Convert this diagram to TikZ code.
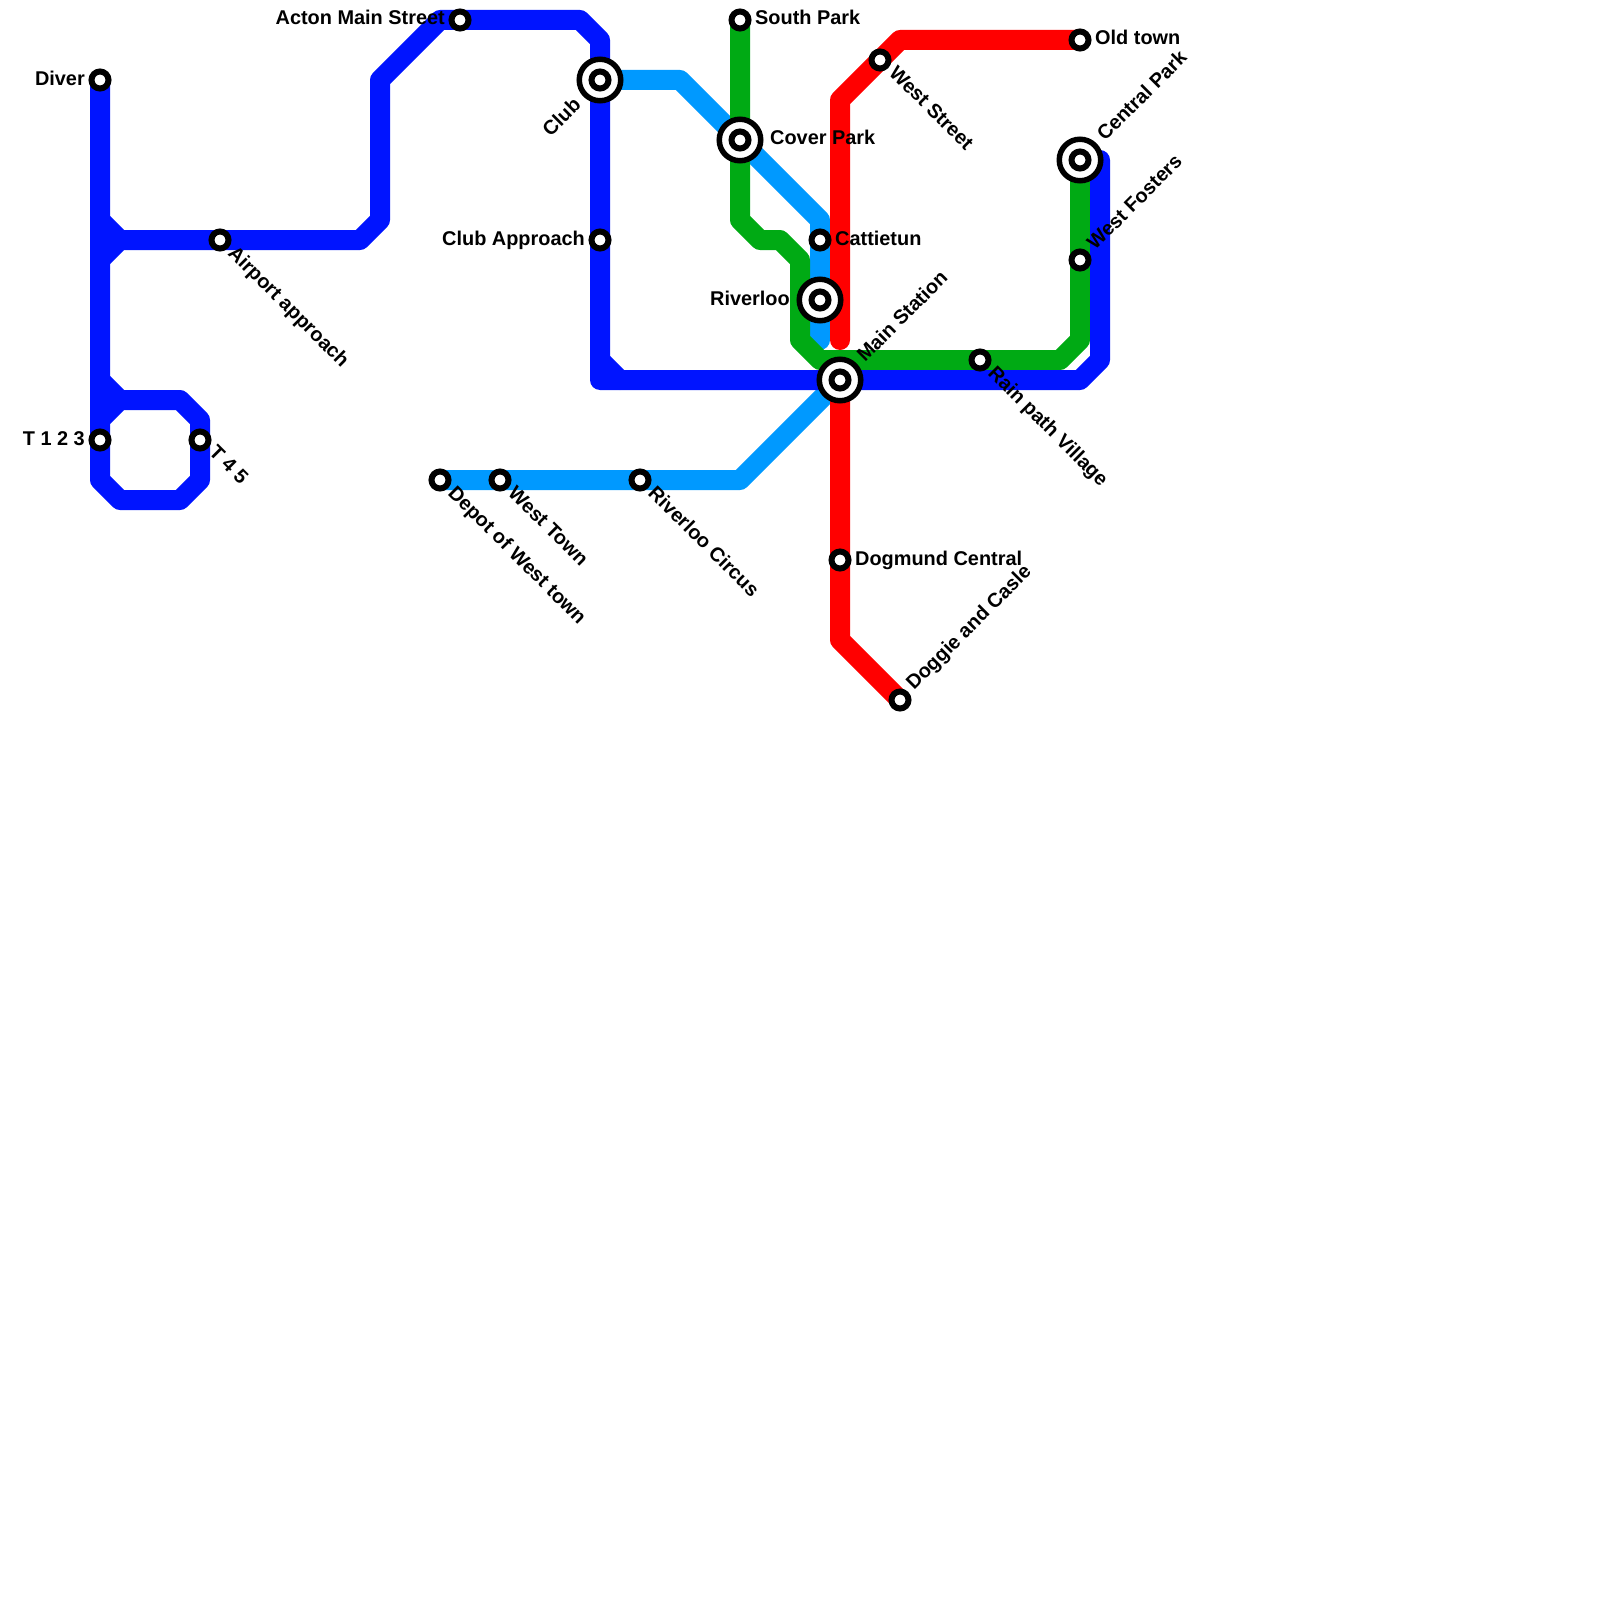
\documentclass[tikz,border=0pt]{standalone}
\usepackage{fontspec}
\setmainfont{Liberation Sans}
\usetikzlibrary{backgrounds}
\definecolor{lnblue}{RGB}{0,20,255}
\definecolor{lnsky}{RGB}{0,153,255}
\definecolor{lngreen}{RGB}{0,170,20}
\definecolor{lnred}{RGB}{255,0,0}
\tikzset{
  x=1pt,y=-1pt,
  metro/.style={line width=20pt,line cap=round,line join=round},
  stn/.style={circle,draw=black,fill=white,line width=6pt,minimum size=17pt,inner sep=0pt},
  hub/.style={circle,draw=black,fill=white,line width=5.5pt,minimum size=41.5pt,inner sep=0pt},
  lbl/.style={inner sep=0pt,font=\fontsize{19.9}{22}\selectfont\bfseries,text=black},
  lr/.style={lbl,anchor=base west},
  ll/.style={lbl,anchor=base east},
  ldn/.style={lbl,anchor=base west,rotate=-45},
  lup/.style={lbl,anchor=base west,rotate=45},
  lupend/.style={lbl,anchor=base east,rotate=45},
}
\begin{document}
\begin{tikzpicture}
\useasboundingbox (0,0) rectangle (1600,1600);
% interchange rings
\node[hub] (clubH) at (600,80) {};
\node[hub] (coverH) at (740,140) {};
\node[hub] (riverH) at (820,300) {};
\node[hub] (mainH) at (840,380) {};
\node[hub] (centralH) at (1080,160) {};
% stations
\node[stn] (diver) at (100,80) {};
\node[stn] (t123) at (100,440) {};
\node[stn] (t45) at (200,440) {};
\node[stn] (airport) at (220,240) {};
\node[stn] (acton) at (460,20) {};
\node[stn] (club) at (600,80) {};
\node[stn] (clubapp) at (600,240) {};
\node[stn] (depot) at (440,480) {};
\node[stn] (westtown) at (500,480) {};
\node[stn] (rcircus) at (640,480) {};
\node[stn] (south) at (740,20) {};
\node[stn] (cover) at (740,140) {};
\node[stn] (catt) at (820,240) {};
\node[stn] (river) at (820,300) {};
\node[stn] (main) at (840,380) {};
\node[stn] (dogmund) at (840,560) {};
\node[stn] (doggie) at (900,700) {};
\node[stn] (weststreet) at (880,60) {};
\node[stn] (oldtown) at (1080,40) {};
\node[stn] (central) at (1080,160) {};
\node[stn] (fosters) at (1080,260) {};
\node[stn] (rain) at (980,360) {};
\begin{scope}[on background layer]
% sky line
\draw[metro,lnsky] (club.center) -- (680,80) -- (cover.center) -- (820,220) -- (catt.center) -- (river.center) -- (820,340);
\draw[metro,lnsky] (main.center) -- (740,480) -- (rcircus.center) -- (westtown.center) -- (depot.center);
% green line
\draw[metro,lngreen] (south.center) -- (cover.center) -- (740,220) -- (760,240) -- (780,240) -- (800,260) -- (800,340) -- (820,360) -- (rain.center) -- (1060,360) -- (1080,340) -- (fosters.center) -- (central.center);
% blue lines
\draw[metro,lnblue] (diver.center) -- (t123.center) -- (100,480) -- (120,500) -- (180,500) -- (200,480) -- (t45.center) -- (200,420) -- (180,400) -- (120,400) -- (100,420);
\draw[metro,lnblue] (100,380) -- (120,400);
\draw[metro,lnblue] (100,220) -- (120,240);
\draw[metro,lnblue] (100,260) -- (120,240) -- (airport.center) -- (360,240) -- (380,220) -- (380,80) -- (440,20) -- (acton.center) -- (580,20) -- (600,40) -- (club.center) -- (clubapp.center) -- (600,380) -- (main.center) -- (1080,380) -- (1100,360) -- (1100,160);
\draw[metro,lnblue] (600,360) -- (620,380);
% red lines
\draw[metro,lnred] (oldtown.center) -- (900,40) -- (weststreet.center) -- (840,100) -- (840,340);
\draw[metro,lnred] (main.center) -- (dogmund.center) -- (840,640) -- (doggie.center);
\end{scope}
% labels
\node[ll] (lDiver) at (85,86) {Diver};
\node[ll] (lT123) at (85,445) {T 1 2 3};
\node[ldn] (lT45) at (208,453) {T 4 5};
\node[ldn] (lAirport) at (227,254) {Airport approach};
\node[ll] (lActon) at (445,25) {Acton Main Street};
\node[lupend] (lClub) at (582,106) {Club};
\node[ll] (lClubApp) at (585,245) {Club Approach};
\node[ldn] (lDepot) at (447,494) {Depot of West town};
\node[ldn] (lWestTown) at (507,494) {West Town};
\node[ldn] (lCircus) at (647,494) {Riverloo Circus};
\node[lr] (lSouth) at (755,25) {South Park};
\node[lr] (lCover) at (770,145) {Cover Park};
\node[lr] (lCatt) at (835,245) {Cattietun};
\node[ll] (lRiver) at (790,305) {Riverloo};
\node[lup] (lMain) at (865,363) {Main Station};
\node[lr] (lDogmund) at (855,565) {Dogmund Central};
\node[lup] (lDoggie) at (914,691) {Doggie and Casle};
\node[ldn] (lWestSt) at (888,74) {West Street};
\node[lr] (lOld) at (1095,45) {Old town};
\node[lup] (lCentral) at (1105,142) {Central Park};
\node[lup] (lFosters) at (1095,251) {West Fosters};
\node[ldn] (lRain) at (987,374) {Rain path Village};
\end{tikzpicture}
\end{document}
